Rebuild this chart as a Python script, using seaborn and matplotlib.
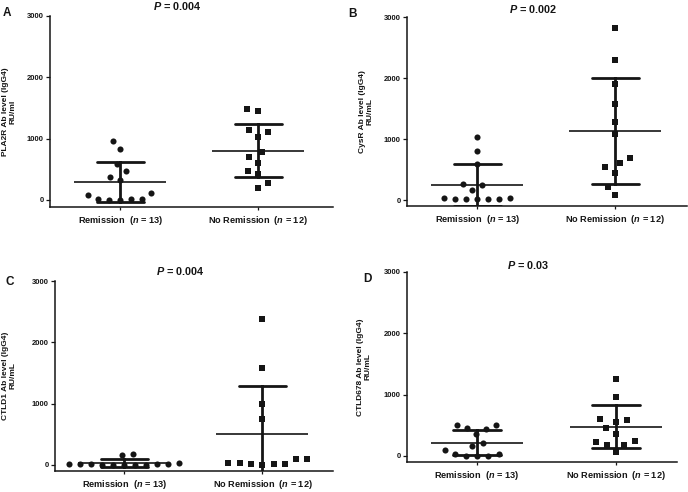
import numpy as np
import pandas as pd
import matplotlib
matplotlib.use("Agg")
import matplotlib.pyplot as plt
import seaborn as sns

# ---------------- data ----------------
groups = ["Remission", "No Remission"]
group_labels = ["Remission  ($n$ = 13)", "No Remission  ($n$ = 12)"]

pla2r_rem = [960, 824, 585, 472, 325, 380, 120, 80, 10, 0, 20, 0, 20]
pla2r_norem = [1453, 1480, 1138, 1116, 1030, 775, 705, 607, 477, 423, 282, 190]

cysr_rem = [1025, 802, 584, 245, 267, 164, 27, 11, 33, 11, 11, 16, 11]
cysr_norem = [2826, 2291, 1898, 1566, 1287, 1075, 606, 687, 535, 442, 218, 76]

ctld1_rem = [185, 168, 27, 10, 15, 5, 0, 0, 8, 12, 3, 20, 5]
ctld1_norem = [2386, 1587, 1000, 750, 92, 92, 27, 11, 0, 27, 11, 22]

ctld678_rem = [500, 510, 461, 440, 353, 157, 217, 98, 5, 38, 5, 33, 0]
ctld678_norem = [1259, 961, 581, 554, 603, 461, 364, 239, 184, 222, 184, 65]

panel_letters = ["A", "B", "C", "D"]
p_values = ["0.004", "0.002", "0.004", "0.03"]
y_labels = ["PLA2R Ab level (IgG4)\nRU/ml",
            "CysR Ab level (IgG4)\nRU/mL",
            "CTLD1 Ab level (IgG4)\nRU/mL",
            "CTLD678 Ab level (IgG4)\nRU/mL"]
y_ticks = [0, 1000, 2000, 3000]

panels = [(pla2r_rem, pla2r_norem), (cysr_rem, cysr_norem),
          (ctld1_rem, ctld1_norem), (ctld678_rem, ctld678_norem)]

# ---------------- style ----------------
sns.set_theme(style="ticks")
plt.rcParams["font.family"] = ["Liberation Sans", "DejaVu Sans"]
plt.rcParams["font.weight"] = "bold"
plt.rcParams["mathtext.fontset"] = "custom"
plt.rcParams["mathtext.it"] = "Liberation Sans:italic:bold"
plt.rcParams["mathtext.rm"] = "Liberation Sans:bold"
plt.rcParams["mathtext.bf"] = "Liberation Sans:bold"
INK = "#151515"

W, H = 688, 492
fig = plt.figure(figsize=(W / 100, H / 100), dpi=100)

# axes rectangles in pixels: left, top(3000), right, bottom(x-axis line)
rects_px = [(50, 16, 333, 207), (407, 17, 687, 206),
            (55, 281, 333, 471), (407, 272, 677, 462)]
xlims = [(-0.507, 1.54), (-0.507, 1.52), (-0.5, 1.51), (-0.504, 1.44)]
ylims = [(-115, 3000), (-98, 3000), (-98, 3000), (-98, 3000)]
ylabel_x = [-0.12, -0.121, -0.137, -0.133]
title_y = [1.031, 1.021, 1.032, 1.016]
letter_px = [(3, 13), (348, 14), (6, 282), (363, 279)]

for i, ((rem, norem), (l, t, r, b)) in enumerate(zip(panels, rects_px)):
    ax = fig.add_axes([l / W, 1 - b / H, (r - l) / W, (b - t) / H])
    df = pd.DataFrame({
        "group": [groups[0]] * len(rem) + [groups[1]] * len(norem),
        "value": list(rem) + list(norem),
    })
    # individual points
    sns.swarmplot(data=df[df.group == groups[0]], x="group", y="value",
                  order=groups, marker="o", size=4.4, color=INK,
                  linewidth=3.2, edgecolor=(0, 0, 0, 0), ax=ax, warn_thresh=1)
    sns.swarmplot(data=df[df.group == groups[1]], x="group", y="value",
                  order=groups, marker="s", size=4.6, color=INK,
                  linewidth=3.2, edgecolor=(0, 0, 0, 0), ax=ax, warn_thresh=1)
    # mean +/- SD
    sns.pointplot(data=df, x="group", y="value", order=groups,
                  errorbar="sd", capsize=0.34, color=INK,
                  marker="_", markersize=66, markeredgewidth=1.2,
                  linestyle="none", err_kws={"linewidth": 2.0},
                  ax=ax, zorder=4)

    ax.set_xlim(*xlims[i])
    ax.set_ylim(*ylims[i])
    ax.set_yticks(y_ticks)
    ax.set_yticklabels([str(v) for v in y_ticks], fontsize=5.5,
                       fontweight="bold", color=INK)
    ax.set_xticks([0, 1])
    ax.set_xticklabels(group_labels, fontsize=6.6, fontweight="bold",
                       color=INK)
    ax.tick_params(axis="y", length=3, width=0.9, pad=1.5, colors=INK)
    ax.tick_params(axis="x", length=2, width=0.9, pad=3, colors=INK)
    ax.set_xlabel("")
    ax.set_ylabel(y_labels[i], fontsize=6.0, fontweight="bold", color=INK,
                  linespacing=1.1)
    ax.yaxis.set_label_coords(ylabel_x[i], 0.5)
    for s in ["top", "right"]:
        ax.spines[s].set_visible(False)
    for s in ["left", "bottom"]:
        ax.spines[s].set_linewidth(1.1)
        ax.spines[s].set_color(INK)
    ax.spines["left"].set_bounds(ylims[i][0], 3000)
    ax.set_facecolor("white")
    ax.text(0.45, title_y[i], "$P$ = " + p_values[i], transform=ax.transAxes,
            ha="center", va="baseline", fontsize=7.8, fontweight="bold",
            color=INK)
    lx, ly = letter_px[i]
    fig.text(lx / W, 1 - ly / H, panel_letters[i], fontsize=8.5,
             fontweight="bold", color=INK, ha="left", va="center")

fig.savefig("out.png", dpi=100, facecolor="white")
